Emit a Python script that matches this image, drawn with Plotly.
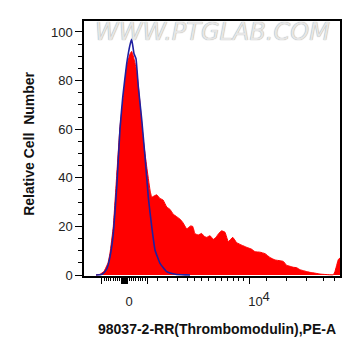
import plotly.graph_objects as go

# Display channel (logicle display units, 0..256) and relative counts
sample_channel = [12, 16, 20, 24, 26, 29.3, 32.7, 36, 39.3, 42.7, 46, 47.7, 50, 52.7, 56, 59.3, 62.7,
                  66, 67.7, 70, 72.7, 76, 79, 82.7, 86, 89.3, 92.7, 96, 99, 102.7, 106.7, 108.7, 111,
                  114.3, 117.7, 120, 122.7, 126, 129.3, 132, 134.3, 137.7, 141, 144.3, 148.7, 152.7,
                  157.7, 162.7, 167.7, 171, 176, 181, 186, 191, 196, 199.3, 202.7, 206, 209.3, 212.7,
                  216, 219.3, 222.7, 226, 229.3, 236, 242, 249.3, 251, 253, 254.3, 256]
sample_counts = [0, 0.3, 1.5, 5, 9, 20, 41, 61, 73, 85.7, 91, 92, 89, 84, 70.7, 55.5, 44.6,
                 35, 32, 32.5, 33, 31.5, 30.9, 28, 27, 25, 24, 23, 21.5, 19, 20.2, 20, 17,
                 16.5, 17.1, 16, 15.5, 16.2, 14.7, 15.5, 16.9, 18.2, 17.6, 13.7, 15.5, 13.3,
                 12.3, 11.4, 10.6, 9.6, 9.4, 8.8, 7.2, 6.2, 5.9, 5.6, 4, 3.6, 3.2, 3,
                 2.2, 1.8, 1.4, 1.1, 0.9, 0.4, 0.2, 0.1, 1.5, 4.5, 6.4, 7]

control_channel = [12, 16, 19.3, 22.7, 26, 29.3, 32.7, 36, 38.7, 42.7, 46, 47.7, 50, 52, 54.3, 57.7,
                   61, 64.3, 67.7, 71, 76, 82.7, 88, 92.7, 102.7, 106]
control_counts = [0, 0.1, 0.7, 2.5, 7.5, 17, 36, 60, 73, 87, 94.7, 97, 91, 89, 77.5, 64,
                  48.7, 32, 20, 10.3, 4.8, 1.4, 0.6, 0.2, 0.05, 0]

# Axis ticks (display channel positions)
x_major_ticks = [17.7, 40.5, 63.5, 165]
x_zero_block = [37.5, 38.2, 38.9, 39.6, 40.5, 41.4, 42.1, 42.8, 43.5]
x_minor_ticks = [20.0, 22.3, 24.6, 26.9, 29.2, 31.5, 33.8, 35.6,
                 45.4, 47.2, 49.5, 51.8, 54.1, 56.4, 58.7, 61.0,
                 73, 83, 93, 103, 110, 117.5, 124.5, 131, 137.5, 143, 149, 154.5, 159.5,
                 182.7, 202.7, 222.7, 239, 250]
x_label_pos = [45, 175]
x_label_text = ["0", "10<sup><span style=\"font-size:13px\">4</span></sup>"]
y_tick_vals = [0, 20, 40, 60, 80, 100]

font_family = "Liberation Sans, Arial, sans-serif"

fig = go.Figure()
fig.add_trace(go.Scatter(
    x=sample_channel, y=sample_counts, mode="lines",
    line=dict(color="#ff0000", width=1, shape="spline", smoothing=0.3),
    fill="tozeroy", fillcolor="#ff0000", hoverinfo="skip", showlegend=False,
))
fig.add_trace(go.Scatter(
    x=control_channel, y=control_counts, mode="lines", xaxis="x2",
    line=dict(color="#1f1fa0", width=1.6, shape="spline", smoothing=0.3),
    hoverinfo="skip", showlegend=False,
))

# The page body has an 8px margin, so the figure is offset by 8px in the window.
fig.update_layout(
    width=353, height=348,
    margin=dict(l=76, r=21, t=13, b=80),
    paper_bgcolor="white", plot_bgcolor="white",
    font=dict(family=font_family, color="#222"),
    xaxis=dict(
        range=[0, 256], showgrid=False, zeroline=False,
        showline=True, linecolor="black", linewidth=1.5, mirror=True,
        ticks="outside", tickvals=x_major_ticks + x_zero_block, ticklen=6,
        tickwidth=1, tickcolor="black", showticklabels=False,
        minor=dict(tickmode="array", tickvals=x_minor_ticks, ticks="outside",
                   ticklen=3, tickwidth=1, tickcolor="black"),
    ),
    xaxis2=dict(
        range=[0, 256], overlaying="x", side="bottom", anchor="y",
        showgrid=False, zeroline=False, showline=False, ticks="",
        tickvals=x_label_pos, ticktext=x_label_text,
        tickfont=dict(size=13, color="#222"), ticklabelstandoff=16,
    ),
    yaxis=dict(
        range=[-0.4, 104.5], showgrid=False, zeroline=False,
        showline=True, linecolor="black", linewidth=1.5, mirror=True,
        ticks="outside", tickvals=y_tick_vals, ticklen=7, tickwidth=1,
        tickcolor="black", tickfont=dict(size=13, color="#222"),
        minor=dict(dtick=5, ticks="outside", ticklen=4, tickwidth=1, tickcolor="black"),
    ),
    annotations=[
        dict(text="WWW.PTGLAB.COM", xref="paper", yref="paper", x=0.5, y=0.955,
             xanchor="center", yanchor="middle", showarrow=False,
             font=dict(family="DejaVu Sans, sans-serif", size=24, color="#e6e6e6",
                       style="italic", shadow="0px 0px 1px #8a8a8a")),
        dict(text="<b>98037-2-RR(Thrombomodulin),PE-A</b>", xref="paper", yref="paper",
             x=0.52, y=-0.208, xanchor="center", yanchor="middle", showarrow=False,
             font=dict(family=font_family, size=14, color="#111")),
        dict(text="<b>Relative Cell  Number</b>", xref="paper", yref="paper",
             x=-0.215, y=0.518, xanchor="center", yanchor="middle", showarrow=False,
             textangle=-90, font=dict(family=font_family, size=14, color="#111")),
    ],
)

fig.write_html("out.html")
